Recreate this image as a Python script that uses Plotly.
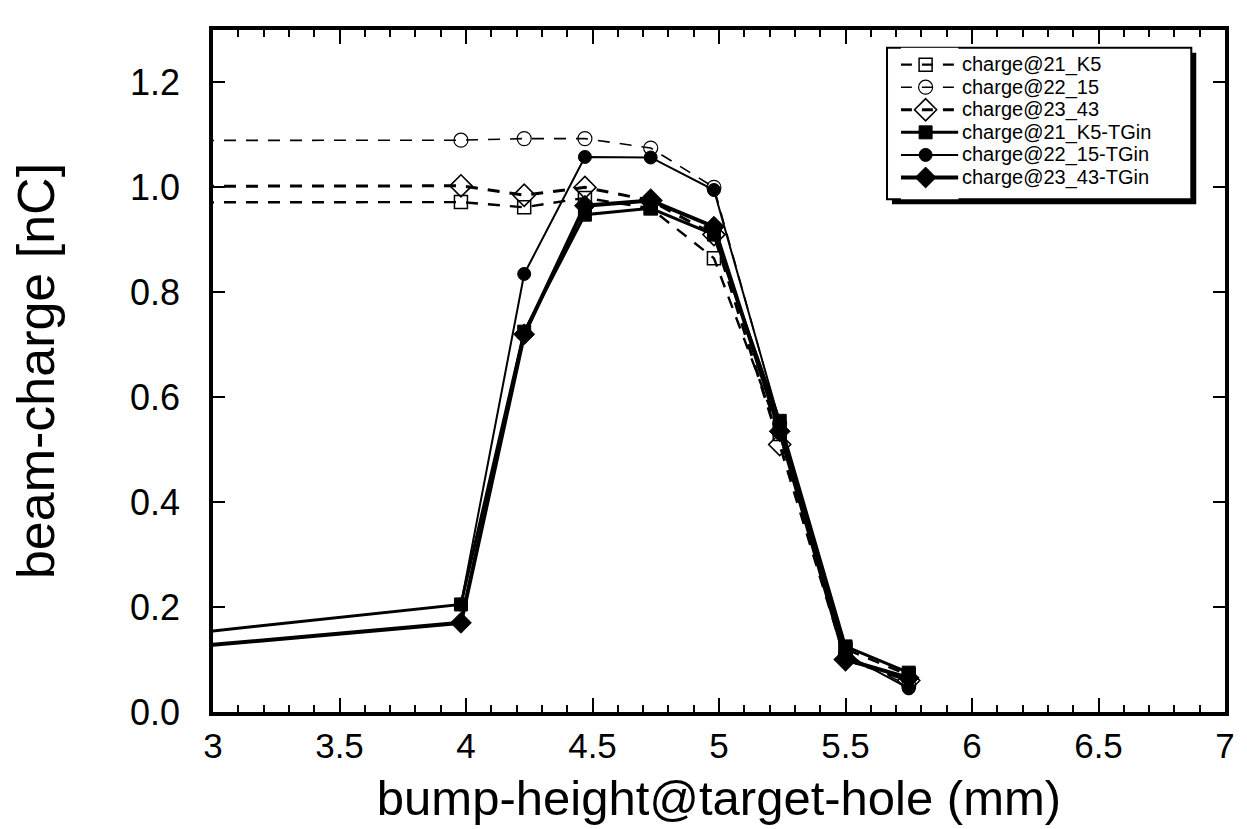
import plotly.graph_objects as go

# ---- data ----
x_pts = [0.0, 3.98, 4.23, 4.47, 4.73, 4.98, 5.24, 5.5, 5.75]

charge_21_K5 = [0.97, 0.972, 0.962, 0.98, 0.96, 0.865, 0.53, 0.12, 0.07]
charge_22_15 = [1.088, 1.09, 1.093, 1.093, 1.075, 1.0, 0.55, 0.11, 0.05]
charge_23_43 = [1.0, 1.003, 0.985, 1.0, 0.975, 0.91, 0.51, 0.10, 0.06]

charge_21_K5_TGin = [0.0, 0.205, 0.725, 0.948, 0.96, 0.91, 0.555, 0.125, 0.075]
charge_22_15_TGin = [None, 0.205, 0.835, 1.058, 1.057, 0.995, 0.55, 0.11, 0.045]
charge_23_43_TGin = [0.0, 0.17, 0.72, 0.965, 0.975, 0.925, 0.535, 0.10, 0.065]

names = ["charge@21_K5", "charge@22_15", "charge@23_43",
         "charge@21_K5-TGin", "charge@22_15-TGin", "charge@23_43-TGin"]

x_ticks = [3, 3.5, 4, 4.5, 5, 5.5, 6, 6.5, 7]
x_tick_text = ["3", "3.5", "4", "4.5", "5", "5.5", "6", "6.5", "7"]
y_ticks = [0.0, 0.2, 0.4, 0.6, 0.8, 1.0, 1.2]
y_tick_text = ["0.0", "0.2", "0.4", "0.6", "0.8", "1.0", "1.2"]

FONT = "Liberation Sans, Arial, Helvetica, sans-serif"
W, H = 1247, 829
ML, MR, MT, MB = 213, 13, 30, 110
PW, PH = W - ML - MR, H - MT - MB


def px_x(p):
    return (p - ML) / PW


def px_y(p):
    return (H - MB - p) / PH


styles = [
    ("square-open", 13, 2.4, True, 1.5),
    ("circle-open", 14, 1.6, True, 1.2),
    ("diamond-open", 17, 3.0, True, 1.6),
    ("square", 13, 3.0, False, 1),
    ("circle", 13, 2.0, False, 1),
    ("diamond", 16, 4.0, False, 1),
]
series = [charge_21_K5, charge_22_15, charge_23_43,
          charge_21_K5_TGin, charge_22_15_TGin, charge_23_43_TGin]

fig = go.Figure()

for yv, nm, (sym, msz, lw, dashed, mlw) in zip(series, names, styles):
    fig.add_trace(go.Scatter(
        x=x_pts, y=yv, name=nm, mode="lines+markers", showlegend=False,
        line=dict(color="black", width=lw, dash="12px,10px" if dashed else "solid"),
        marker=dict(symbol=sym, size=msz, color="black", opacity=1,
                    line=dict(color="black", width=mlw)),
    ))

# ---- legend (samples drawn on a small overlay axis) ----
box_px_l, box_px_r, box_px_t = 893, 1200, 48
row0, row_step = 65, 22.8
box_px_b = row0 + (len(names) - 1) * row_step + 22

for i, (nm, (sym, msz, lw, dashed, mlw)) in enumerate(zip(names, styles)):
    fig.add_trace(go.Scatter(
        x=[0, 0.43, 1], y=[i, i, i], mode="lines+markers", showlegend=False,
        xaxis="x2", yaxis="y2", cliponaxis=False, hoverinfo="skip",
        line=dict(color="black", width=lw, dash="11px,10px" if dashed else "solid"),
        marker=dict(symbol=sym, size=[0, msz, 0], color="black", opacity=1,
                    line=dict(color="black", width=mlw)),
    ))
    fig.add_annotation(
        x=px_x(968), y=px_y(row0 + i * row_step), xref="paper", yref="paper",
        text=nm, showarrow=False, xanchor="left", yanchor="middle",
        borderpad=0, font=dict(family=FONT, size=20, color="black"),
    )

box_l, box_r, box_t, box_b = px_x(box_px_l), px_x(box_px_r), px_y(box_px_t), px_y(box_px_b)
shadow = 5
fig.add_shape(type="rect", xref="paper", yref="paper", layer="below",
              x0=box_l + shadow / PW, x1=box_r + shadow / PW,
              y0=box_b - shadow / PH, y1=box_t - shadow / PH,
              fillcolor="black", line=dict(color="black", width=0))
fig.add_shape(type="rect", xref="paper", yref="paper", layer="below",
              x0=box_l, x1=box_r, y0=box_b, y1=box_t,
              fillcolor="white", line=dict(color="black", width=2))

fig.update_layout(
    width=W, height=H,
    margin=dict(l=ML, r=MR, t=MT, b=MB),
    paper_bgcolor="white", plot_bgcolor="white",
    font=dict(family=FONT, color="black"),
    showlegend=False,
    xaxis=dict(
        range=[3, 7], tickvals=x_ticks, ticktext=x_tick_text,
        ticks="inside", ticklen=14, tickwidth=2, tickcolor="black",
        minor=dict(dtick=0.1, ticks="inside", ticklen=7, tickwidth=1.5, tickcolor="black"),
        showline=True, linewidth=3.5, linecolor="black", mirror="ticks",
        showgrid=False, zeroline=False,
        tickfont=dict(family=FONT, size=35, color="black"),
        title=dict(text="bump-height@target-hole (mm)",
                   font=dict(family=FONT, size=49, color="black"), standoff=18),
    ),
    yaxis=dict(
        range=[0, 1.3], tickvals=y_ticks, ticktext=y_tick_text,
        ticks="inside", ticklen=12, tickwidth=2, tickcolor="black",
        showline=True, linewidth=3.5, linecolor="black", mirror="ticks",
        showgrid=False, zeroline=False, ticklabelstandoff=22,
        tickfont=dict(family=FONT, size=36, color="black"),
        title=dict(text="beam-charge [nC]",
                   font=dict(family=FONT, size=52, color="black"), standoff=60),
    ),
    xaxis2=dict(
        domain=[px_x(907), px_x(965)], range=[0, 1], anchor="y2",
        visible=False, fixedrange=True,
    ),
    yaxis2=dict(
        domain=[box_b, box_t],
        range=[(box_px_b - row0) / row_step, (box_px_t - row0) / row_step],
        anchor="x2", visible=False, fixedrange=True,
    ),
)

fig.write_html("out.html")
